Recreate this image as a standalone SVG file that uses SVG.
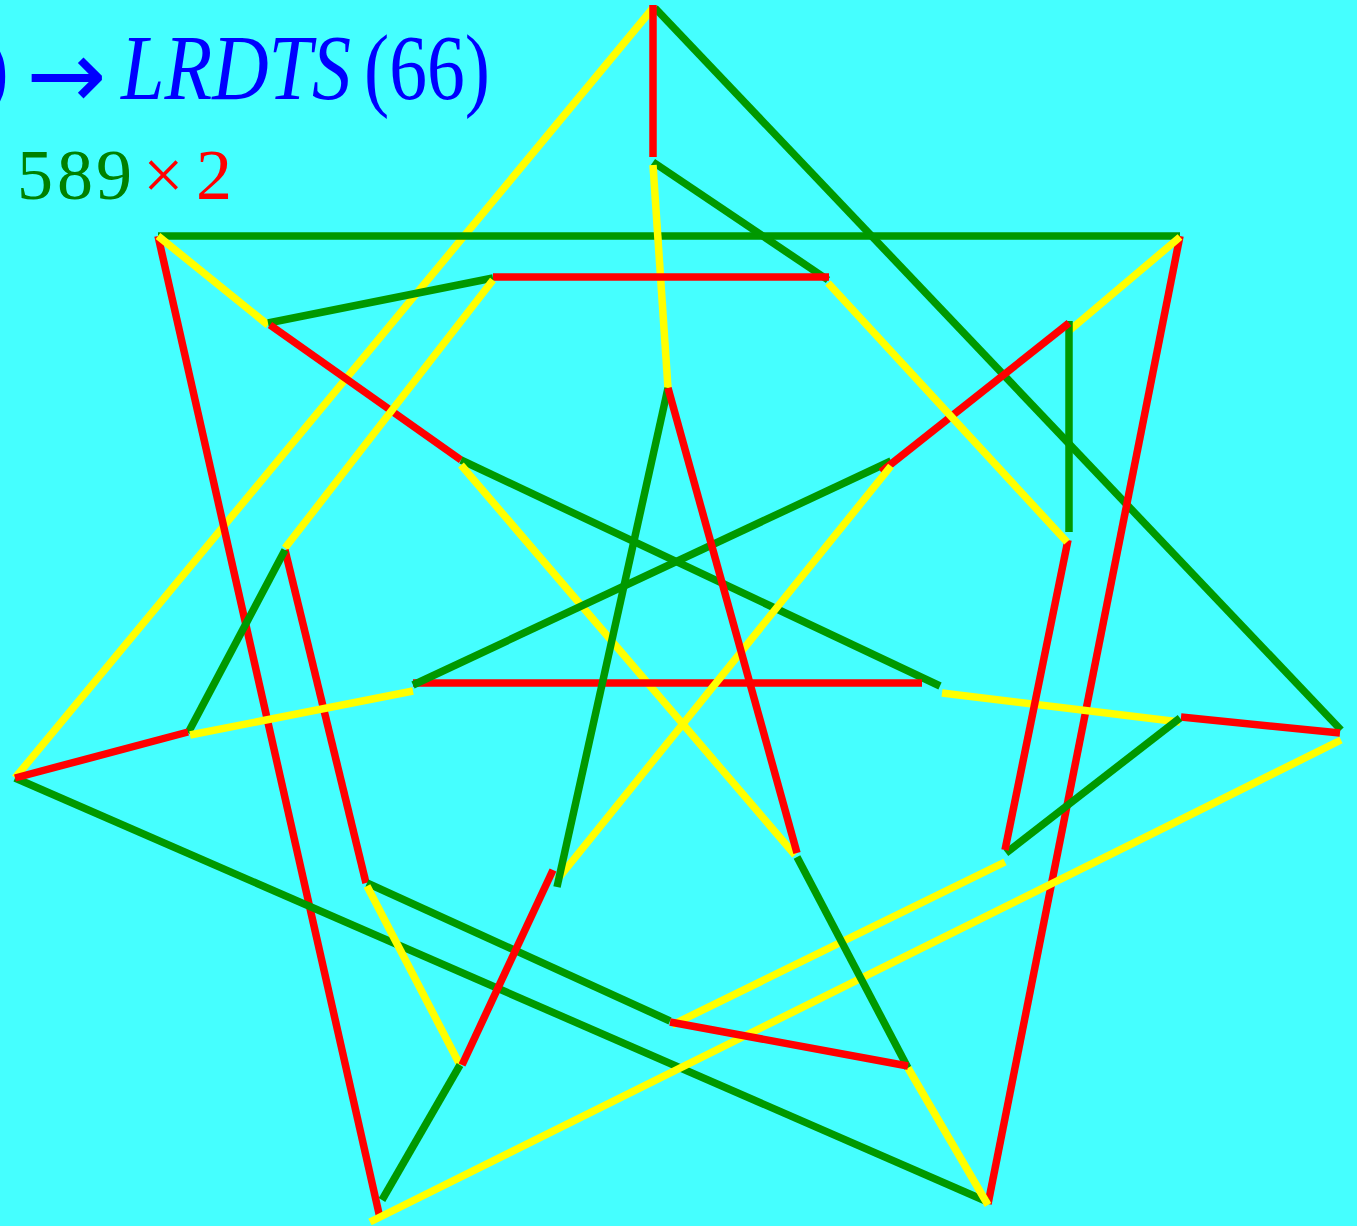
<svg xmlns="http://www.w3.org/2000/svg" width="1357" height="1226" viewBox="0 0 1357 1226">
<style>
.r{stroke:#ff0000}
.g{stroke:#009900}
.y{stroke:#ffff00}
line{stroke-width:7.5;stroke-linecap:butt;fill:none}
.t1{font-family:"Liberation Serif","Times New Roman",serif;font-size:94px;fill:#0000ff}
.ar{font-family:"DejaVu Sans",sans-serif;font-size:96px;fill:#0000ff}
.t2{font-family:"Liberation Serif","Times New Roman",serif;font-size:72px}
</style>
<rect width="1357" height="1226" fill="#45ffff"/>
<g id="title">
<text class="t1" x="-22" y="99">)</text>
<text class="ar" x="26" y="108">→</text>
<text class="t1" x="121" y="99" font-style="italic" textLength="230" lengthAdjust="spacingAndGlyphs">LRDTS</text>
<text class="t1" x="364" y="99" textLength="126" lengthAdjust="spacingAndGlyphs">(66)</text>
</g>
<g id="count">
<text class="t2" y="199" fill="#008000"><tspan x="17">5</tspan><tspan x="57">8</tspan><tspan x="96">9</tspan></text>
<text class="t2" x="143" y="199" fill="#ff0000">×</text>
<text class="t2" x="196" y="199" fill="#ff0000">2</text>
</g>
<g id="connectors">
<line class="y" x1="653" y1="8" x2="15" y2="778"/>
<line class="g" x1="655" y1="8" x2="1341" y2="730"/>
<line class="g" x1="158" y1="236" x2="1180" y2="236"/>
<line class="r" x1="158" y1="236" x2="380" y2="1218"/>
<line class="r" x1="1180" y1="236" x2="988" y2="1204"/>
<line class="g" x1="15" y1="778" x2="988" y2="1202"/>
<line class="y" x1="1341" y1="740" x2="370" y2="1222"/>
<line class="r" x1="653" y1="5" x2="653" y2="157"/>
<line class="g" x1="653" y1="162" x2="828" y2="280"/>
<line class="y" x1="653" y1="165" x2="668" y2="388"/>
<line class="r" x1="493" y1="277" x2="829" y2="277"/>
<line class="y" x1="158" y1="236" x2="268" y2="325"/>
<line class="g" x1="268" y1="323" x2="493" y2="278"/>
<line class="r" x1="270" y1="325" x2="461" y2="460"/>
<line class="g" x1="461" y1="460" x2="940" y2="686"/>
<line class="y" x1="461" y1="465" x2="795" y2="855"/>
<line class="y" x1="493" y1="280" x2="285" y2="548"/>
<line class="r" x1="285" y1="550" x2="366" y2="883"/>
<line class="g" x1="285" y1="550" x2="188" y2="733"/>
<line class="r" x1="188" y1="732" x2="15" y2="778"/>
<line class="y" x1="190" y1="735" x2="413" y2="691"/>
<line class="r" x1="413" y1="683" x2="922" y2="683"/>
<line class="g" x1="413" y1="685" x2="891" y2="461"/>
<line class="g" x1="367" y1="883" x2="670" y2="1021"/>
<line class="y" x1="367" y1="886" x2="460" y2="1065"/>
<line class="y" x1="942" y1="693" x2="1180" y2="722"/>
<line class="r" x1="1181" y1="717" x2="1340" y2="733"/>
<line class="g" x1="1180" y1="718" x2="1006" y2="853"/>
<line class="r" x1="1068" y1="540" x2="1005" y2="850"/>
<line class="y" x1="1005" y1="862" x2="672" y2="1025"/>
<line class="y" x1="1180" y1="237" x2="1070" y2="330"/>
<line class="g" x1="1069" y1="321" x2="1069" y2="532"/>
<line class="r" x1="1069" y1="323" x2="881" y2="472"/>
<line class="y" x1="891" y1="466" x2="557" y2="880"/>
<line class="y" x1="828" y1="283" x2="1067" y2="542"/>
<line class="r" x1="553" y1="870" x2="462" y2="1065"/>
<line class="g" x1="668" y1="388" x2="557" y2="887"/>
<line class="g" x1="460" y1="1065" x2="382" y2="1200"/>
<line class="r" x1="668" y1="388" x2="797" y2="853"/>
<line class="g" x1="797" y1="857" x2="908" y2="1068"/>
<line class="y" x1="908" y1="1068" x2="988" y2="1205"/>
<line class="r" x1="670" y1="1022" x2="908" y2="1066"/>
</g>
</svg>
